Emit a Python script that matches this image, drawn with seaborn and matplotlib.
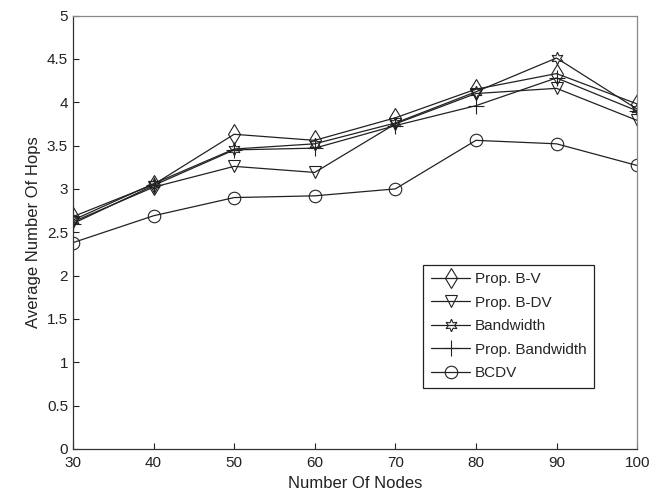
import matplotlib
matplotlib.use("Agg")
import matplotlib.pyplot as plt
import seaborn as sns
import pandas as pd

# Data
nodes = [30, 40, 50, 60, 70, 80, 90, 100]
prop_bv = [2.68, 3.05, 3.63, 3.56, 3.82, 4.15, 4.33, 3.98]
prop_bdv = [2.62, 3.02, 3.26, 3.19, 3.75, 4.10, 4.16, 3.79]
bandwidth = [2.64, 3.06, 3.46, 3.52, 3.76, 4.12, 4.51, 3.92]
prop_bandwidth = [2.60, 3.04, 3.45, 3.47, 3.73, 3.96, 4.28, 3.90]
bcdv = [2.38, 2.69, 2.90, 2.92, 3.00, 3.56, 3.52, 3.27]

series_names = ['Prop. B-V', 'Prop. B-DV', 'Bandwidth', 'Prop. Bandwidth', 'BCDV']
series_vals = [prop_bv, prop_bdv, bandwidth, prop_bandwidth, bcdv]

rows = []
for name, vals in zip(series_names, series_vals):
    for n, v in zip(nodes, vals):
        rows.append({'Nodes': n, 'Hops': v, 'Series': name})
df = pd.DataFrame(rows)

sns.set_style('white')
plt.rcParams['font.family'] = ['Liberation Sans', 'DejaVu Sans']

fig = plt.figure(figsize=(6.63, 5), dpi=100)
ax = fig.add_axes([0.11, 0.102, 0.851, 0.867])

markers = {'Prop. B-V': 'd', 'Prop. B-DV': 'v', 'Bandwidth': (6, 1, 0),
           'Prop. Bandwidth': '+', 'BCDV': 'o'}
sizes = {'Prop. B-V': 10, 'Prop. B-DV': 8.5, 'Bandwidth': 9,
         'Prop. Bandwidth': 12, 'BCDV': 9}

for name in series_names:
    sub = df[df['Series'] == name]
    sns.lineplot(data=sub, x='Nodes', y='Hops', ax=ax, color='#222222',
                 linewidth=0.9, marker=markers[name], markersize=sizes[name],
                 markerfacecolor='none', markeredgecolor='#222222',
                 markeredgewidth=0.8, label=name)

ax.set_xlim(30, 100)
ax.set_ylim(0, 5)
ax.set_xticks(nodes)
ax.set_yticks([0, 0.5, 1, 1.5, 2, 2.5, 3, 3.5, 4, 4.5, 5])
ax.set_yticklabels(['0', '0.5', '1', '1.5', '2', '2.5', '3', '3.5', '4', '4.5', '5'])
ax.tick_params(direction='in', length=4, labelsize=11, colors='#222222',
               top=False, right=False, bottom=True, left=True)
ax.tick_params(axis='x', pad=5)
for s in ax.spines.values():
    s.set_color('#333333')
    s.set_linewidth(0.9)
ax.spines['top'].set_color('#888888')
ax.spines['right'].set_color('#888888')

ax.set_xlabel('Number Of Nodes', fontsize=12, color='#222222')
ax.set_ylabel('Average Number Of Hops', fontsize=12, color='#222222')

leg = ax.legend(loc='lower right', bbox_to_anchor=(0.924, 0.141), fontsize=11,
                frameon=True, fancybox=False, framealpha=1, edgecolor='#222222',
                borderpad=0.5, labelspacing=0.62, handlelength=2.6,
                handletextpad=0.3, borderaxespad=0)
leg.get_frame().set_linewidth(0.9)

fig.savefig('out.png', dpi=100)
